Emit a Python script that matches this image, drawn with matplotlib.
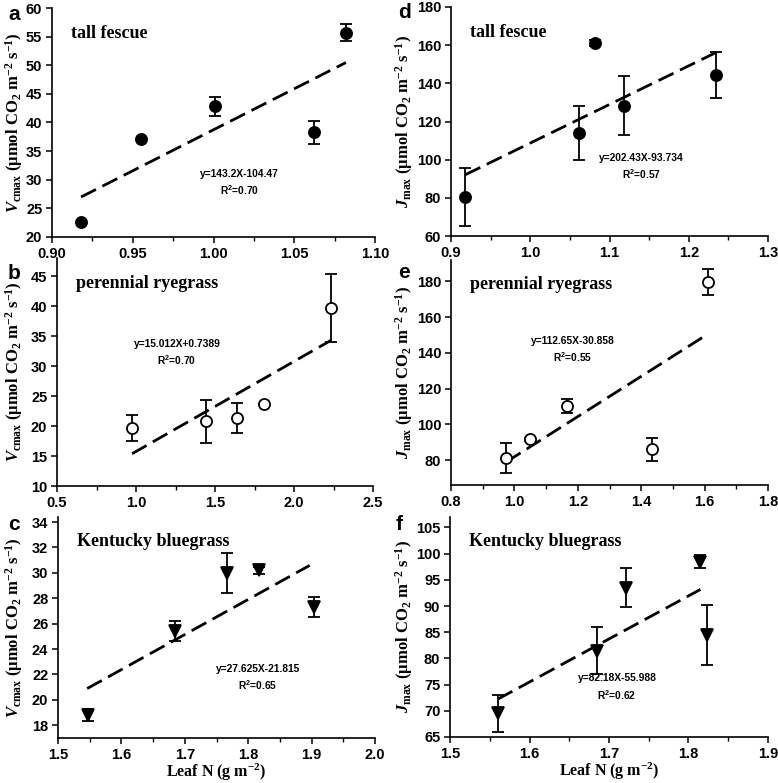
import matplotlib
matplotlib.use("Agg")
import matplotlib.pyplot as plt
from matplotlib.ticker import MultipleLocator, FormatStrFormatter
from matplotlib.font_manager import FontProperties

plt.rcParams['font.family'] = ['Liberation Sans', 'DejaVu Sans']
plt.rcParams['font.weight'] = 'bold'
plt.rcParams['mathtext.fontset'] = 'custom'
plt.rcParams['mathtext.rm'] = 'Liberation Serif:bold'
plt.rcParams['mathtext.bf'] = 'Liberation Serif:bold'
plt.rcParams['mathtext.it'] = 'Liberation Serif:italic:bold'
plt.rcParams['mathtext.sf'] = 'Liberation Sans:bold'

# ---- data ----
# a: Vcmax tall fescue
a_x = [0.918, 0.955, 1.001, 1.062, 1.082]
a_y = [22.7, 37.2, 42.8, 38.3, 55.7]
a_err = [0.0, 0.0, 1.6, 2.0, 1.5]
# b: Vcmax perennial ryegrass
b_x = [0.975, 1.44, 1.64, 1.81, 2.235]
b_y = [19.7, 20.8, 21.4, 23.7, 39.7]
b_err = [2.2, 3.6, 2.5, 0.0, 5.7]
# c: Vcmax Kentucky bluegrass
c_x = [1.548, 1.685, 1.767, 1.817, 1.903]
c_y = [18.8, 25.4, 30.0, 30.2, 27.3]
c_err = [0.5, 0.8, 1.6, 0.3, 0.8]
# d: Jmax tall fescue
d_x = [0.918, 1.062, 1.082, 1.118, 1.235]
d_y = [80.5, 114.0, 161.0, 128.3, 144.3]
d_err = [15.0, 14.3, 1.5, 15.5, 12.0]
# e: Jmax perennial ryegrass
e_x = [0.975, 1.05, 1.165, 1.435, 1.61]
e_y = [81.0, 91.5, 110.3, 86.0, 179.8]
e_err = [8.5, 1.0, 4.0, 6.5, 7.3]
# f: Jmax Kentucky bluegrass
f_x = [1.56, 1.685, 1.722, 1.815, 1.823]
f_y = [69.5, 81.5, 93.5, 98.5, 84.5]
f_err = [3.5, 4.5, 3.7, 1.2, 5.7]

# regression (slope, intercept, x-start, x-end)
a_fit = (143.2, -104.47, 0.918, 1.082)
b_fit = (15.012, 0.7389, 0.975, 2.235)
c_fit = (27.625, -21.815, 1.546, 1.897)
d_fit = (202.43, -93.734, 0.918, 1.235)
e_fit = (112.65, -30.858, 0.975, 1.61)
f_fit = (82.18, -55.988, 1.56, 1.815)

eqs = {
    'a': "y=143.2X-104.47\nR$^{\\mathsf{2}}$=0.70",
    'b': "y=15.012X+0.7389\nR$^{\\mathsf{2}}$=0.70",
    'c': "y=27.625X-21.815\nR$^{\\mathsf{2}}$=0.65",
    'd': "y=202.43X-93.734\nR$^{\\mathsf{2}}$=0.57",
    'e': "y=112.65X-30.858\nR$^{\\mathsf{2}}$=0.55",
    'f': "y=82.18X-55.988\nR$^{\\mathsf{2}}$=0.62",
}
species = {'a': 'tall fescue', 'b': 'perennial ryegrass', 'c': 'Kentucky bluegrass',
           'd': 'tall fescue', 'e': 'perennial ryegrass', 'f': 'Kentucky bluegrass'}

W, H = 778, 783
fig = plt.figure(figsize=(W / 100, H / 100), dpi=100)


def add_ax(l, r, t, b):
    return fig.add_axes([l / W, 1 - b / H, (r - l) / W, (b - t) / H])


vlab = r'$\mathit{V}_{\mathrm{cmax}}$ ($\mathrm{\mu}$mol CO$_{2}$ m$^{-2}$ s$^{-1}$)'
jlab = r'$\mathit{J}_{\mathrm{max}}$ ($\mathrm{\mu}$mol CO$_{2}$ m$^{-2}$ s$^{-1}$)'

panels = [
    # key, rect, x, y, err, fit, marker, mfc, xlim, xmaj, xfmt, ylim, ymaj, ylab, eqpos, letterpos, ylabx
    ('a', (52, 375, 8, 237), a_x, a_y, a_err, a_fit, 'o', 'black', (0.90, 1.10), 0.05, '%.2f',
     (20, 60), 5, vlab, (0.58, 0.234), (8, 15), 25),
    ('b', (57, 373, 258, 486), b_x, b_y, b_err, b_fit, 'o', 'white', (0.5, 2.5), 0.5, '%.1f',
     (10, 48), 5, vlab, (0.38, 0.585), (8, 273), 25),
    ('c', (58, 375, 517, 738), c_x, c_y, c_err, c_fit, 'v', 'black', (1.5, 2.0), 0.1, '%.1f',
     (17, 34.4), 2, vlab, (0.63, 0.27), (8, 525), 25),
    ('d', (451, 768, 7, 236), d_x, d_y, d_err, d_fit, 'o', 'black', (0.9, 1.3), 0.1, '%.1f',
     (60, 180), 20, jlab, (0.60, 0.30), (398, 12), 415),
    ('e', (451, 768, 260, 485), e_x, e_y, e_err, e_fit, 'o', 'white', (0.8, 1.8), 0.2, '%.1f',
     (66, 192), 20, jlab, (0.385, 0.60), (398, 272), 415),
    ('f', (450, 768, 517, 737), f_x, f_y, f_err, f_fit, 'v', 'black', (1.5, 1.9), 0.1, '%.1f',
     (65, 107), 5, jlab, (0.525, 0.225), (396, 524), 415),
]

tick_fp = FontProperties(family='Liberation Sans', weight='bold', size=10.5)

axes = []
for (key, rect, xs, ys, errs, fit, mk, mfc, xlim, xmaj, xfmt, ylim, ymaj, ylab,
     eqpos, letterpos, ylabx) in panels:
    ax = add_ax(*rect)
    axes.append(ax)
    ax.errorbar(xs, ys, yerr=errs, fmt=mk, color='black', mfc=mfc, mec='black',
                ms=9 if mk == 'v' else 8, mew=1.3, ecolor='black', elinewidth=1.3,
                capsize=4, capthick=1.3, zorder=3)
    k, b0, x0, x1 = fit
    ax.plot([x0, x1], [k * x0 + b0, k * x1 + b0], color='black', lw=2.0,
            dashes=(6.0, 2.6), zorder=2)
    ax.set_xlim(*xlim)
    ax.set_ylim(*ylim)
    ax.xaxis.set_major_locator(MultipleLocator(xmaj))
    ax.xaxis.set_minor_locator(MultipleLocator(xmaj / 2))
    ax.xaxis.set_major_formatter(FormatStrFormatter(xfmt))
    ax.yaxis.set_major_locator(MultipleLocator(ymaj))
    for s in ('top', 'right'):
        ax.spines[s].set_visible(False)
    for s in ('left', 'bottom'):
        ax.spines[s].set_linewidth(1.2)
    ax.tick_params(axis='both', which='major', direction='out', length=4, width=1.1,
                   labelsize=10.5, pad=3)
    ax.tick_params(axis='x', which='minor', direction='out', length=3, width=1.0)
    ax.set_ylabel(ylab, fontsize=12, fontfamily='Liberation Serif', fontweight='bold')
    l, r = rect[0], rect[1]
    ax.yaxis.set_label_coords((ylabx - l) / (r - l), 0.5)
    ax.text(0.06, 0.89, species[key], transform=ax.transAxes, fontsize=13,
            fontfamily='Liberation Serif', fontweight='bold', va='center', ha='left')
    ax.text(eqpos[0], eqpos[1], eqs[key], transform=ax.transAxes, fontsize=7.4,
            fontweight='bold', ha='center', va='center', linespacing=1.45)
    fig.text(letterpos[0] / W, 1 - letterpos[1] / H, key, fontsize=15,
             fontweight='bold', ha='left', va='center')
    if key in ('c', 'f'):
        ax.set_xlabel(r'Leaf N (g m$^{-2}$)', fontsize=11.5, fontfamily='Liberation Serif',
                      fontweight='bold', labelpad=0)

fig.canvas.draw()
for ax in axes:
    for t in ax.xaxis.get_major_ticks() + ax.yaxis.get_major_ticks():
        t.label1.set_fontproperties(tick_fp)

fig.savefig('out.png', dpi=100, facecolor='white')
